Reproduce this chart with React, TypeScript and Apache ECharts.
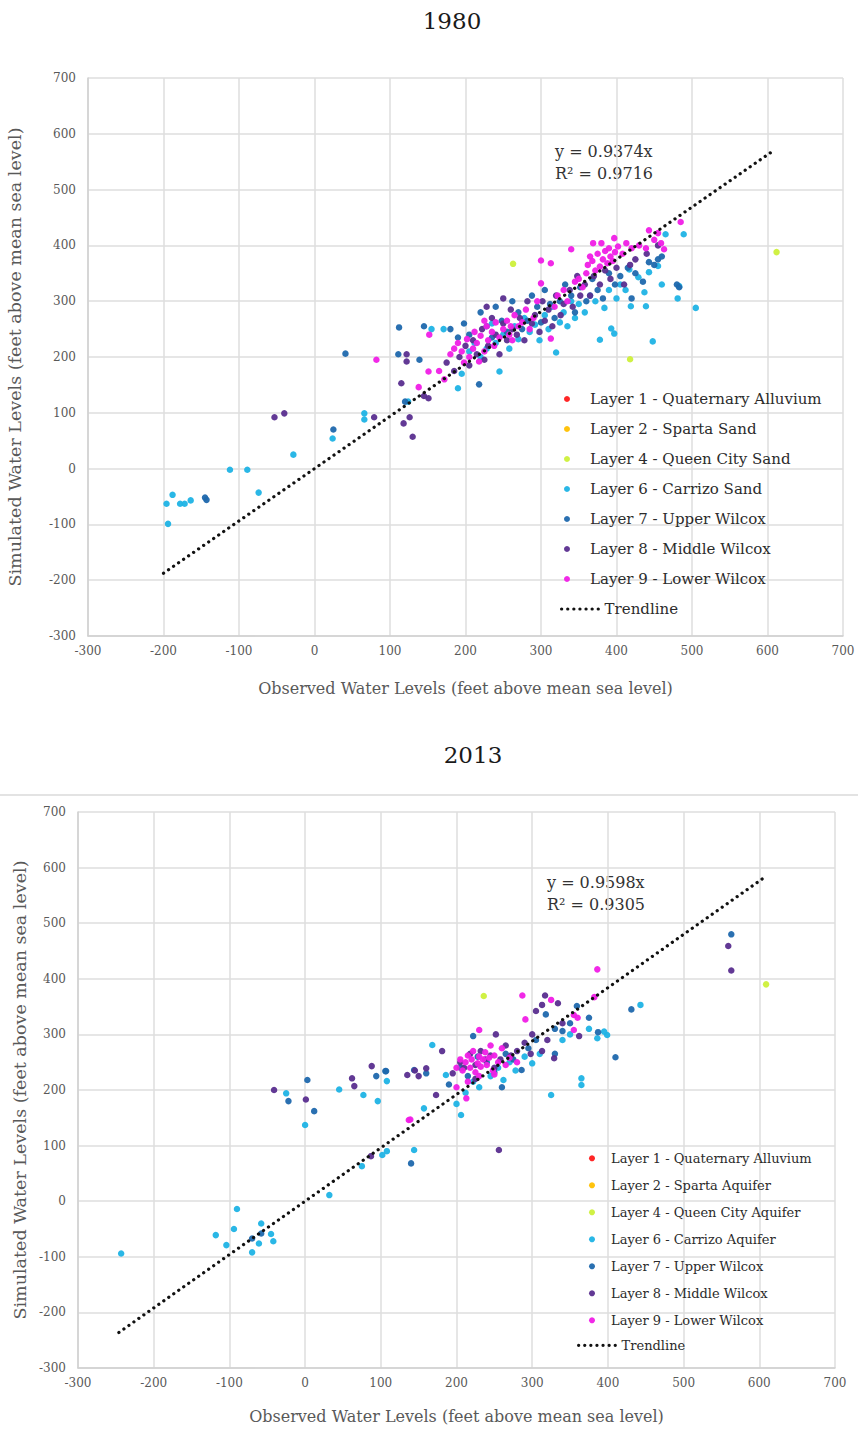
import React, { useEffect, useRef } from "react";
import * as echarts from "echarts";

// ---------- Tick / axis settings ----------
const AXIS_MIN = -300;
const AXIS_MAX = 700;
const AXIS_STEP = 100;

// ---------- Titles & texts ----------
const TITLES = ["1980", "2013"];
const X_TITLE = "Observed Water Levels (feet above mean sea level)";
const Y_TITLE = "Simulated Water Levels (feet above mean sea level)";
const SLOPES = [0.9374, 0.9598];
const R2 = ["0.9716", "0.9305"];
const TREND_X_1980 = [-200, 610];
const TREND_X_2013 = [-246, 605];

const NAMES_1980 = [
  "Layer 1 - Quaternary Alluvium",
  "Layer 2 - Sparta Sand",
  "Layer 4 - Queen City Sand",
  "Layer 6 - Carrizo Sand",
  "Layer 7 - Upper Wilcox",
  "Layer 8 - Middle Wilcox",
  "Layer 9 - Lower Wilcox",
];
const NAMES_2013 = [
  "Layer 1 - Quaternary Alluvium",
  "Layer 2 - Sparta Aquifer",
  "Layer 4 - Queen City Aquifer",
  "Layer 6 - Carrizo Aquifer",
  "Layer 7 - Upper Wilcox",
  "Layer 8 - Middle Wilcox",
  "Layer 9 - Lower Wilcox",
];
const COLORS = ["#ff1a1a", "#ffc000", "#cdf03a", "#1fb3e5", "#1f68ad", "#5a2e8f", "#f01ee6"];

// ---------- 1980 data [observed, simulated] ----------
const L1_1980: number[][] = [];
const L2_1980: number[][] = [];
const L4_1980 = [[263, 367], [418, 196], [612, 388]];
const L6_1980 = [
  [-196, -63], [-194, -99], [-188, -47], [-178, -63], [-172, -63], [-164, -57], [-112, -2], [-89, -2],
  [-74, -43], [-28, 25], [24, 54], [66, 99], [66, 88], [124, 120], [155, 250], [171, 250], [190, 144],
  [195, 170], [205, 210], [212, 225], [220, 200], [228, 215], [235, 260], [240, 225], [245, 174], [250, 240],
  [258, 215], [265, 255], [270, 232], [278, 270], [285, 245], [292, 258], [298, 230], [305, 275], [310, 250],
  [315, 290], [320, 208], [325, 262], [330, 280], [335, 255], [340, 300], [345, 270], [350, 295], [358, 280],
  [365, 310], [372, 300], [378, 231], [384, 288], [390, 320], [393, 251], [397, 242], [400, 305], [405, 330],
  [412, 320], [417, 357], [419, 291], [429, 343], [437, 316], [439, 291], [443, 352], [448, 228], [455, 363],
  [460, 330], [481, 305], [483, 327], [489, 420], [505, 288], [465, 420],
];
const L7_1980 = [
  [-145, -52], [-143, -56], [25, 70], [41, 206], [111, 205], [139, 195], [145, 255], [112, 253], [120, 120],
  [180, 250], [190, 235], [198, 260], [205, 240], [218, 151], [220, 280], [228, 255], [235, 235], [240, 290],
  [248, 265], [255, 245], [262, 300], [270, 280], [275, 250], [282, 265], [288, 310], [295, 290], [300, 262],
  [305, 320], [312, 295], [318, 270], [325, 300], [332, 330], [340, 310], [345, 280], [352, 325], [360, 300],
  [368, 340], [375, 320], [382, 305], [390, 350], [398, 330], [405, 345], [415, 360], [425, 350], [435, 335],
  [443, 370], [450, 365], [455, 375], [460, 380], [480, 330], [483, 325], [420, 305],
];
const L8_1980 = [
  [-53, 92], [-40, 99], [79, 92], [118, 81], [126, 92], [130, 57], [115, 153], [122, 205], [122, 192],
  [151, 126], [145, 130], [175, 190], [185, 175], [192, 200], [200, 220], [205, 185], [210, 230], [215, 205],
  [222, 250], [225, 195], [230, 220], [235, 270], [240, 240], [245, 205], [250, 260], [255, 230], [260, 285],
  [262, 250], [268, 240], [272, 270], [278, 230], [282, 300], [288, 260], [292, 275], [298, 245], [302, 300],
  [305, 265], [310, 285], [315, 255], [320, 310], [326, 275], [330, 295], [338, 320], [342, 290], [348, 345],
  [352, 310], [358, 330], [365, 310], [370, 345], [378, 330], [385, 355], [392, 340], [400, 360], [410, 330],
  [418, 365], [425, 375], [440, 385], [455, 400], [250, 305], [228, 290],
];
const L9_1980 = [
  [82, 195], [152, 240], [151, 174], [138, 146], [165, 175], [172, 160], [180, 205], [185, 215], [190, 225],
  [195, 210], [198, 190], [202, 232], [205, 200], [210, 215], [212, 245], [215, 225], [218, 192], [220, 238],
  [225, 210], [228, 255], [230, 230], [235, 245], [238, 220], [240, 262], [245, 235], [250, 250], [255, 265],
  [258, 240], [262, 230], [265, 275], [270, 255], [275, 262], [280, 285], [285, 250], [290, 270], [295, 300],
  [300, 332], [300, 373], [313, 368], [313, 233], [318, 290], [322, 310], [330, 320], [335, 300], [340, 393],
  [345, 335], [350, 340], [355, 325], [360, 350], [362, 365], [365, 380], [368, 372], [369, 404], [372, 355],
  [375, 385], [378, 362], [380, 404], [382, 375], [385, 390], [388, 368], [390, 395], [392, 380], [395, 372],
  [397, 413], [398, 388], [402, 398], [408, 385], [413, 404], [420, 395], [430, 400], [439, 395], [443, 427],
  [450, 410], [455, 422], [459, 404], [463, 393], [485, 442], [260, 255], [225, 265],
];

// ---------- 2013 data [observed, simulated] ----------
const L1_2013: number[][] = [];
const L2_2013: number[][] = [];
const L4_2013 = [[236, 369], [609, 390]];
const L6_2013 = [
  [-243, -94], [-118, -61], [-104, -79], [-94, -50], [-90, -14], [-70, -92], [-61, -76], [-58, -40],
  [-45, -59], [-42, -72], [32, 11], [75, 63], [102, 83], [108, 90], [144, 92], [0, 137], [-25, 194],
  [45, 201], [77, 191], [96, 180], [108, 216], [157, 167], [168, 281], [186, 227], [206, 155], [200, 175],
  [212, 195], [222, 215], [230, 205], [245, 225], [255, 240], [262, 218], [270, 250], [278, 235], [290, 260],
  [300, 248], [310, 265], [325, 191], [340, 290], [365, 209], [365, 221], [386, 293], [399, 299], [443, 353],
  [395, 305], [375, 310], [350, 300],
];
const L7_2013 = [
  [-70, -67], [-58, -58], [3, 218], [-22, 180], [12, 162], [94, 225], [106, 234], [140, 68], [144, 236],
  [107, 234], [222, 297], [286, 236], [318, 336], [340, 306], [359, 351], [387, 304], [410, 259], [431, 345],
  [563, 480], [190, 210], [205, 240], [215, 225], [228, 260], [240, 250], [250, 232], [265, 265], [275, 255],
  [295, 275], [305, 290], [330, 310], [350, 320], [375, 330], [330, 265], [260, 205], [160, 230],
];
const L8_2013 = [
  [-41, 200], [1, 183], [62, 221], [65, 207], [88, 243], [135, 227], [87, 81], [160, 239], [173, 191],
  [181, 270], [256, 92], [559, 459], [563, 415], [317, 370], [334, 356], [313, 353], [305, 342], [252, 300],
  [362, 297], [329, 257], [313, 270], [195, 230], [205, 250], [210, 240], [218, 265], [225, 245], [232, 270],
  [238, 255], [245, 262], [250, 240], [258, 255], [265, 280], [272, 262], [280, 270], [290, 285], [298, 265],
  [320, 290], [340, 320], [300, 300], [225, 220], [150, 225], [145, 235],
];
const L9_2013 = [
  [139, 147], [137, 146], [213, 185], [386, 417], [287, 370], [291, 327], [230, 308], [325, 362], [382, 367],
  [355, 335], [355, 308], [200, 240], [205, 255], [208, 235], [212, 250], [215, 262], [218, 240], [220, 255],
  [222, 270], [225, 232], [228, 248], [230, 260], [232, 242], [235, 255], [238, 268], [240, 245], [243, 258],
  [248, 235], [250, 262], [255, 250], [260, 275], [265, 245], [270, 258], [280, 250], [230, 225], [215, 215],
  [200, 205], [245, 280], [360, 330], [250, 228],
];

const DATA_1980 = [L1_1980, L2_1980, L4_1980, L6_1980, L7_1980, L8_1980, L9_1980];
const DATA_2013 = [L1_2013, L2_2013, L4_2013, L6_2013, L7_2013, L8_2013, L9_2013];

const SERIF = "DejaVu Serif";
const GRAY = "#595959";
const GRID_LINE = "#dedede";

function axis(gridIndex: number, isX: boolean, name: string, nameGap: number, nameSize: number) {
  return {
    type: "value",
    gridIndex,
    min: AXIS_MIN,
    max: AXIS_MAX,
    interval: AXIS_STEP,
    name,
    nameLocation: "middle",
    nameGap,
    nameTextStyle: { color: GRAY, fontFamily: SERIF, fontSize: nameSize },
    axisLine: { show: true, onZero: false, lineStyle: { color: "#d0d0d0", width: 1.5 } },
    axisTick: { show: false },
    axisLabel: { color: GRAY, fontFamily: SERIF, fontSize: 12, margin: isX ? 9 : 12 },
    splitLine: { show: true, lineStyle: { color: GRID_LINE, width: 1.5 } },
  };
}

export default function App() {
  const ref = useRef<HTMLDivElement>(null);
  useEffect(() => {
    if (!ref.current) return;
    const chart = echarts.init(ref.current, null, { renderer: "svg" });

    const series: any[] = [];
    const addSet = (names: string[], data: number[][][], gi: number) => {
      names.forEach((n, i) => {
        series.push({
          type: "scatter",
          name: n,
          xAxisIndex: gi,
          yAxisIndex: gi,
          data: data[i],
          symbol: "circle",
          symbolSize: 6.5,
          itemStyle: { color: COLORS[i], opacity: 0.95 },
          z: 3,
        });
      });
    };
    addSet(NAMES_1980, DATA_1980, 0);
    addSet(NAMES_2013, DATA_2013, 1);
    const trend = (xs: number[], slope: number, gi: number) => ({
      type: "line",
      name: "Trendline",
      xAxisIndex: gi,
      yAxisIndex: gi,
      data: xs.map((x) => [x, x * slope]),
      symbol: "none",
      itemStyle: { color: "#111" },
      lineStyle: { color: "#111", width: 3.2, type: [0.1, 6], cap: "round" },
      z: 4,
    });
    series.push(trend(TREND_X_1980, SLOPES[0], 0));
    series.push(trend(TREND_X_2013, SLOPES[1], 1));

    const legendText = (size: number, lh: number) => ({
      color: "#2b2b2b",
      fontFamily: SERIF,
      fontSize: size,
      lineHeight: lh,
    });
    const yTitle = (x: number, y: number) => ({
      type: "text",
      x,
      y,
      rotation: Math.PI / 2,
      style: {
        text: Y_TITLE,
        fontFamily: SERIF,
        fontSize: 17.5,
        fill: GRAY,
        align: "center",
        verticalAlign: "middle",
      },
    });
    const trendLegendLine = { color: "#111", width: 3.2, type: [0.1, 6], cap: "round" };

    chart.setOption({
      animation: false,
      backgroundColor: "#ffffff",
      title: [
        { text: TITLES[0], left: 447, top: 4, textAlign: "center", textStyle: { fontFamily: SERIF, fontSize: 23, fontWeight: "normal", color: "#1a1a1a" } },
        { text: TITLES[1], left: 468, top: 738, textAlign: "center", textStyle: { fontFamily: SERIF, fontSize: 23, fontWeight: "normal", color: "#1a1a1a" } },
      ],
      grid: [
        { left: 88, top: 78, width: 755, height: 558 },
        { left: 78, top: 812, width: 757, height: 556 },
      ],
      xAxis: [axis(0, true, X_TITLE, 44, 16), axis(1, true, X_TITLE, 40, 16)],
      yAxis: [axis(0, false, "", 64, 17), axis(1, false, "", 50, 17)],
      legend: [
        {
          orient: "vertical", left: 559, top: 386, itemWidth: 26, itemHeight: 6, itemGap: 14,
          icon: "circle", data: NAMES_1980, textStyle: { ...legendText(15, 16), padding: [0, 0, 0, 5] }, selectedMode: false,
        },
        {
          orient: "vertical", left: 555, top: 596, itemWidth: 38, itemHeight: 8,
          itemStyle: { opacity: 0 }, lineStyle: trendLegendLine,
          data: ["Trendline"], textStyle: legendText(15, 16), selectedMode: false,
        },
        {
          orient: "vertical", left: 584, top: 1146, itemWidth: 16, itemHeight: 6, itemGap: 12.4,
          icon: "circle", data: NAMES_2013, textStyle: { ...legendText(13, 14.6), padding: [0, 0, 0, 6] }, selectedMode: false,
        },
        {
          orient: "vertical", left: 572, top: 1333, itemWidth: 38, itemHeight: 8,
          itemStyle: { opacity: 0 }, lineStyle: trendLegendLine,
          data: ["Trendline"], textStyle: legendText(13, 14.6), selectedMode: false,
        },
      ],
      graphic: [
        { type: "line", shape: { x1: 0, y1: 795, x2: 858, y2: 795 }, style: { stroke: "#e3e3e3", lineWidth: 2 } },
        yTitle(15, 357),
        yTitle(20, 1090),
        { type: "text", left: 555, top: 143, style: { text: "y = " + SLOPES[0] + "x", fontFamily: SERIF, fontSize: 16, fill: "#333" } },
        { type: "text", left: 555, top: 165, style: { text: "R\u00b2 = " + R2[0], fontFamily: SERIF, fontSize: 16, fill: "#333" } },
        { type: "text", left: 547, top: 874, style: { text: "y = " + SLOPES[1] + "x", fontFamily: SERIF, fontSize: 16, fill: "#333" } },
        { type: "text", left: 547, top: 896, style: { text: "R\u00b2 = " + R2[1], fontFamily: SERIF, fontSize: 16, fill: "#333" } },
      ],
      series,
    });
    return () => chart.dispose();
  }, []);
  return (
    <div
      ref={ref}
      style={{ position: "absolute", left: 0, top: 0, width: 858, height: 1429, background: "#fff" }}
    />
  );
}
